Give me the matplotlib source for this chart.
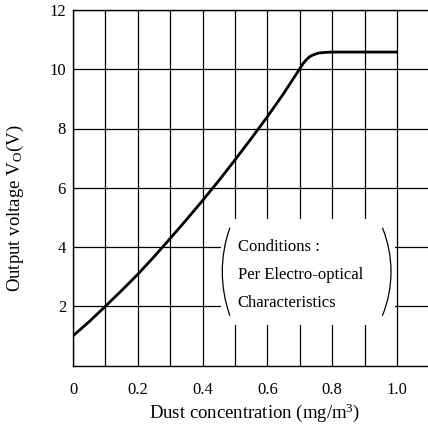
"""Dust sensor output voltage vs. dust concentration."""

import matplotlib

matplotlib.use("Agg")

import matplotlib.pyplot as plt
from matplotlib.patches import Arc, Rectangle

# Values
DUST = [0.0, 0.05, 0.10, 0.15, 0.20, 0.25, 0.30, 0.35, 0.40, 0.45, 0.50,
        0.55, 0.60, 0.65, 0.70, 0.71, 0.72, 0.73, 0.74, 0.75, 0.76, 0.78,
        0.80, 1.00]
VOLTAGE = [1.00, 1.48, 2.00, 2.53, 3.08, 3.67, 4.29, 4.92, 5.57, 6.24, 6.94,
           7.66, 8.40, 9.18, 10.02, 10.19, 10.32, 10.42, 10.48, 10.52, 10.55,
           10.57, 10.58, 10.58]

X_TICKS = [0.0, 0.2, 0.4, 0.6, 0.8, 1.0]
X_TICK_LABELS = ["0", "0.2", "0.4", "0.6", "0.8", "1.0"]
X_MINOR = [0.1, 0.3, 0.5, 0.7, 0.9]
Y_TICKS = [2, 4, 6, 8, 10, 12]
CONDITIONS = ["Conditions :", "Per Electro-optical", "Characteristics"]

W, H = 428, 425

plt.rcParams["font.family"] = ["Liberation Serif", "DejaVu Serif"]
plt.rcParams["mathtext.fontset"] = "custom"
plt.rcParams["mathtext.rm"] = "Liberation Serif"
plt.rcParams["mathtext.it"] = "Liberation Serif:italic"


def px(x, y):
    """Pixel position (top-left origin) to figure fraction."""
    return x / W, (H - y) / H


def main():
    fig = plt.figure(figsize=(W / 100, H / 100), dpi=100)
    left, bottom = px(73, 365.5)
    _, top = px(0, 10)
    ax = fig.add_axes([left, bottom, 1.1 * 324 / W, top - bottom])

    ax.set_xlim(0, 1.1)
    ax.set_ylim(0, 12)
    ax.set_xticks(X_TICKS)
    ax.set_xticklabels(X_TICK_LABELS)
    ax.set_xticks(X_MINOR, minor=True)
    ax.set_yticks(Y_TICKS)
    ax.tick_params(which="both", length=0, labelsize=12, colors="black")
    ax.tick_params(axis="x", pad=12)
    ax.tick_params(axis="y", pad=5)
    ax.grid(which="both", color="black", linewidth=0.9)

    ax.spines["right"].set_visible(False)
    for name in ("left", "bottom", "top"):
        ax.spines[name].set_linewidth(1.0)
        ax.spines[name].set_color("black")

    ax.plot(DUST, VOLTAGE, color="black", linewidth=2.0, zorder=4,
            solid_capstyle="butt", solid_joinstyle="round")

    # White box for the conditions note, covering the grid
    x0, y0 = px(221, 325)
    x1, y1 = px(395, 219)
    ax.add_patch(Rectangle((x0, y0), x1 - x0, y1 - y0, transform=fig.transFigure,
                           facecolor="white", edgecolor="none", zorder=3,
                           clip_on=False))

    # Bracket-like arcs on either side of the note
    for cx, cy, r, t1, t2 in [(353, 271.7, 130.7, 160.2, 199.8),
                              (274.4, 271.7, 116.6, -22.3, 22.3)]:
        ax.add_patch(Arc(px(cx, cy), 2 * r / W, 2 * r / H, theta1=t1, theta2=t2,
                         transform=fig.transFigure, color="black",
                         linewidth=0.9, zorder=5, clip_on=False))

    for i, line in enumerate(CONDITIONS):
        tx, ty = px(237.5, 246.7 + 28.2 * i)
        fig.text(tx, ty, line, ha="left", va="center", fontsize=12, zorder=6)

    lx, ly = px(255, 413)
    fig.text(lx, ly, r"Dust concentration (mg/m$^3$)", ha="center",
             va="center", fontsize=13.5)
    yx, yy = px(15, 208)
    fig.text(yx, yy, r"Output voltage V$_\mathrm{O}$(V)", ha="center",
             va="center", rotation=90, fontsize=13.5)

    fig.savefig("out.png", dpi=100, facecolor="white")
    plt.close(fig)


if __name__ == "__main__":
    main()
